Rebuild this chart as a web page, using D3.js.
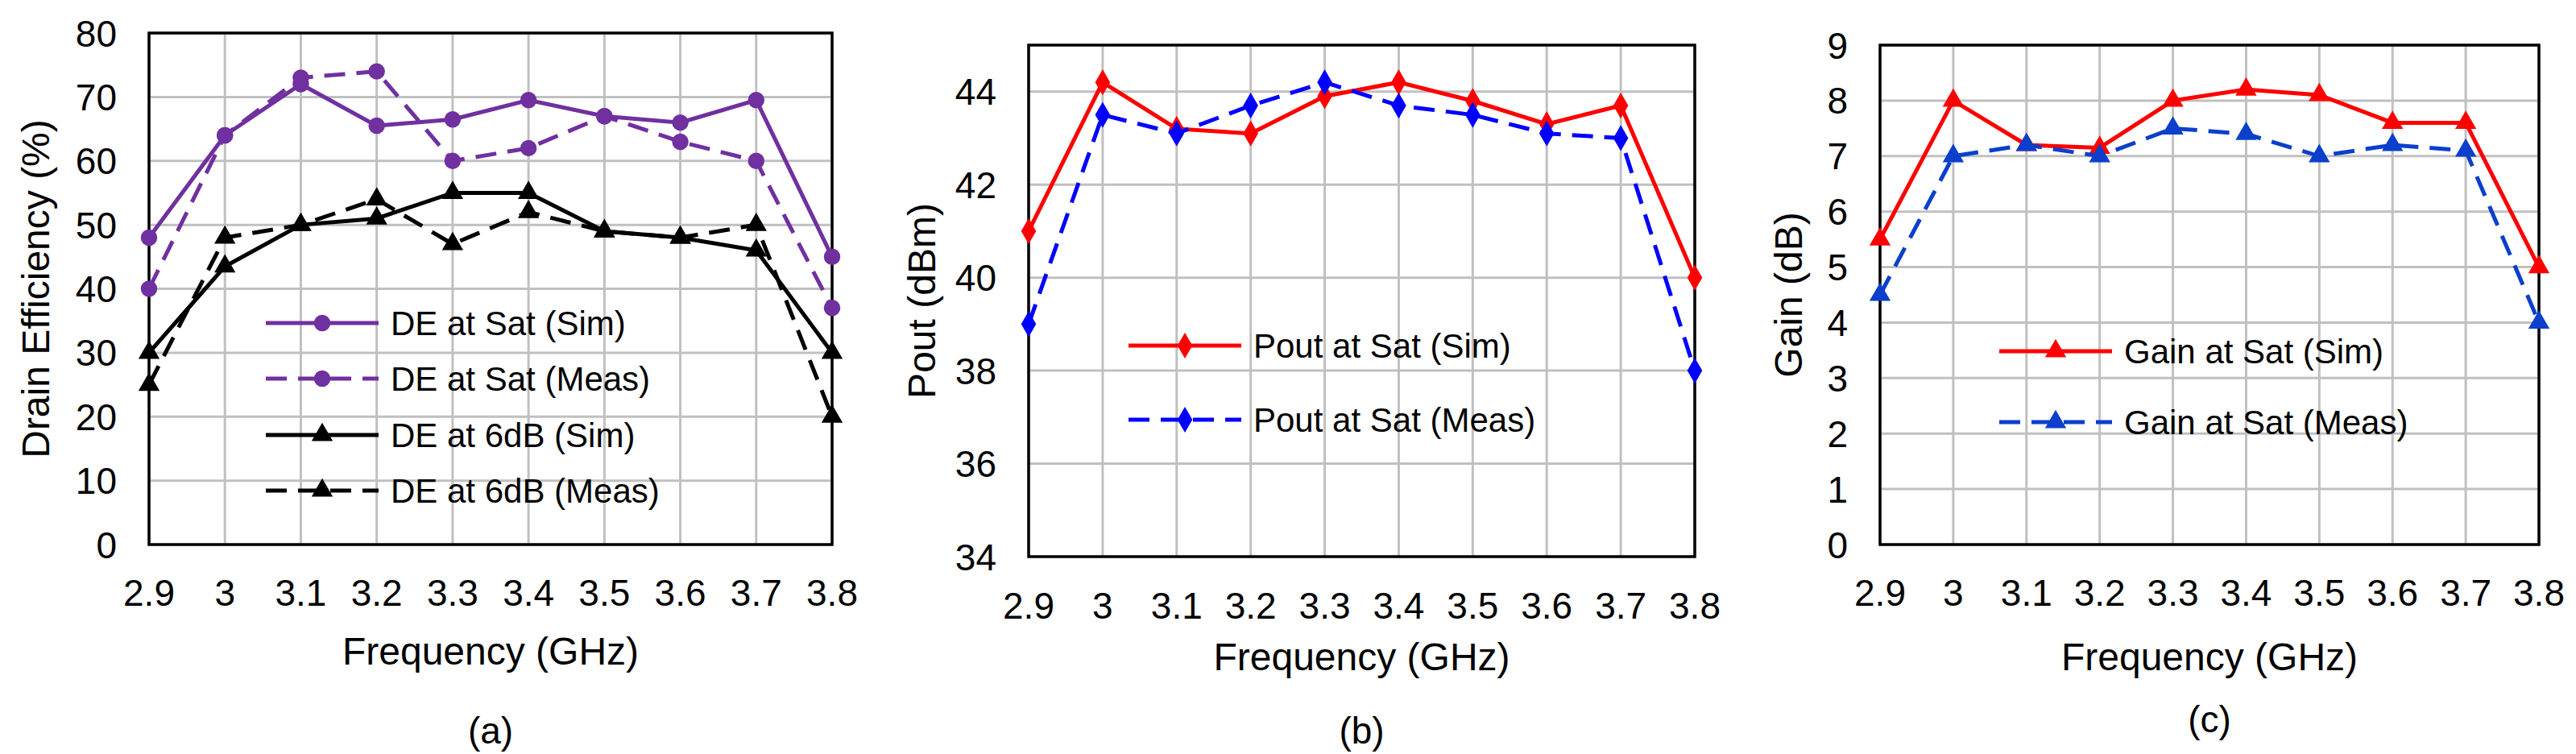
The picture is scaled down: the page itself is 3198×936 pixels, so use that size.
<!DOCTYPE html>
<html>
<head>
<meta charset="utf-8">
<script src="https://cdn.jsdelivr.net/npm/d3@7"></script>
<style>
  body { margin: 0; background: #fff; }
  svg { display: block; font-family: Arial, "Liberation Sans", sans-serif; }
</style>
</head>
<body>
<svg id="chart" width="3198" height="936"></svg>
<script>
// x categories shared by all three panels
const freqs = ["2.9", "3", "3.1", "3.2", "3.3", "3.4", "3.5", "3.6", "3.7", "3.8"];

// (a) drain efficiency (%)
const deSatSim = [48, 64, 72, 65.5, 66.5, 69.5, 67, 66, 69.5, 45];
const deSatMeas = [40, 64, 73, 74, 60, 62, 67, 63, 60, 37];
const de6Sim = [30, 43.5, 50, 51, 55, 55, 49, 48, 46, 30];
const de6Meas = [25, 48, 50, 54, 47, 52, 49, 48, 50, 20];
const deTicks = [0, 10, 20, 30, 40, 50, 60, 70, 80];

// (b) output power (dBm)
const poutSim = [41, 44.2, 43.2, 43.1, 43.9, 44.2, 43.8, 43.3, 43.7, 40];
const poutMeas = [39, 43.5, 43.1, 43.7, 44.2, 43.7, 43.5, 43.1, 43, 38];
const poutTicks = [34, 36, 38, 40, 42, 44];

// (c) gain (dB)
const gainSim = [5.5, 8, 7.2, 7.15, 8, 8.2, 8.1, 7.6, 7.6, 5];
const gainMeas = [4.5, 7, 7.2, 7, 7.5, 7.4, 7, 7.2, 7.1, 4];
const gainTicks = [0, 1, 2, 3, 4, 5, 6, 7, 8, 9];

const svg = d3.select("#chart");

const panels = [
  {
    left: 185, right: 1033, top: 41, bottom: 676, domain: [0, 80], ticks: deTicks,
    yTitle: "Drain Efficiency (%)", yTitleX: 44, caption: "(a)", capY: 906,
    xTickY: 735, xTitleY: 808, legX: 330, legRows: [401, 470, 540, 609],
    series: [
      { name: "DE at Sat (Sim)", values: deSatSim, color: "#7030A0", dash: null, marker: "circle" },
      { name: "DE at Sat (Meas)", values: deSatMeas, color: "#7030A0", dash: "26,14", marker: "circle" },
      { name: "DE at 6dB (Sim)", values: de6Sim, color: "#000000", dash: null, marker: "triangle" },
      { name: "DE at 6dB (Meas)", values: de6Meas, color: "#000000", dash: "26,14", marker: "triangle" }
    ]
  },
  {
    left: 1277, right: 2104, top: 56, bottom: 691, domain: [34, 45], ticks: poutTicks,
    yTitle: "Pout (dBm)", yTitleX: 1144, caption: "(b)", capY: 906,
    xTickY: 751, xTitleY: 815, legX: 1401, legRows: [429, 521],
    series: [
      { name: "Pout at Sat (Sim)", values: poutSim, color: "#FF0000", dash: null, marker: "diamond" },
      { name: "Pout at Sat (Meas)", values: poutMeas, color: "#0000FF", dash: "26,14", marker: "diamond" }
    ]
  },
  {
    left: 2334, right: 3152, top: 56, bottom: 676, domain: [0, 9], ticks: gainTicks,
    yTitle: "Gain (dB)", yTitleX: 2220, caption: "(c)", capY: 892,
    xTickY: 735, xTitleY: 815, legX: 2482, legRows: [436, 524],
    series: [
      { name: "Gain at Sat (Sim)", values: gainSim, color: "#FF0000", dash: null, marker: "triangle" },
      { name: "Gain at Sat (Meas)", values: gainMeas, color: "#0B3FCC", dash: "26,14", marker: "triangle" }
    ]
  }
];

const symbols = {
  circle: d3.symbol().type(d3.symbolCircle).size(330),
  triangle: d3.symbol().type(d3.symbolTriangle).size(300),
  diamond: d3.symbol().type(d3.symbolDiamond).size(300)
};

panels.forEach(p => {
  const x = d3.scalePoint().domain(freqs).range([p.left, p.right]);
  const y = d3.scaleLinear().domain(p.domain).range([p.bottom, p.top]);
  const g = svg.append("g");

  // grid
  g.append("g").selectAll("line.h").data(p.ticks).join("line")
    .attr("x1", p.left).attr("x2", p.right)
    .attr("y1", d => y(d)).attr("y2", d => y(d))
    .attr("stroke", "#c0c0c0").attr("stroke-width", 3);
  g.append("g").selectAll("line.v").data(freqs).join("line")
    .attr("x1", d => x(d)).attr("x2", d => x(d))
    .attr("y1", p.top).attr("y2", p.bottom)
    .attr("stroke", "#c0c0c0").attr("stroke-width", 3);

  // frame
  g.append("rect")
    .attr("x", p.left).attr("y", p.top)
    .attr("width", p.right - p.left).attr("height", p.bottom - p.top)
    .attr("fill", "none").attr("stroke", "#000").attr("stroke-width", 3.5);

  // tick labels
  g.append("g").selectAll("text").data(p.ticks).join("text")
    .attr("x", p.left - 40).attr("y", d => y(d)).attr("dy", "0.36em")
    .attr("text-anchor", "end").attr("font-size", 46).text(d => d);
  g.append("g").selectAll("text").data(freqs).join("text")
    .attr("x", d => x(d)).attr("y", p.xTickY).attr("dy", "0.36em")
    .attr("text-anchor", "middle").attr("font-size", 46).text(d => d);

  // titles
  g.append("text")
    .attr("x", (p.left + p.right) / 2).attr("y", p.xTitleY).attr("dy", "0.36em")
    .attr("text-anchor", "middle").attr("font-size", 48).text("Frequency (GHz)");
  g.append("text")
    .attr("transform", `translate(${p.yTitleX},${(p.top + p.bottom) / 2}) rotate(-90)`)
    .attr("dy", "0.36em").attr("text-anchor", "middle").attr("font-size", 48).text(p.yTitle);
  g.append("text")
    .attr("x", (p.left + p.right) / 2).attr("y", p.capY).attr("dy", "0.36em")
    .attr("text-anchor", "middle").attr("font-size", 46).text(p.caption);

  const line = d3.line().x((d, i) => x(freqs[i])).y(d => y(d));

  p.series.forEach((s, k) => {
    g.append("path").datum(s.values)
      .attr("d", line).attr("fill", "none")
      .attr("stroke", s.color).attr("stroke-width", 5)
      .attr("stroke-dasharray", s.dash);
    g.append("g").selectAll("path").data(s.values).join("path")
      .attr("transform", (d, i) => `translate(${x(freqs[i])},${y(d)})`)
      .attr("d", symbols[s.marker]()).attr("fill", s.color);

    // legend entry
    const ly = p.legRows[k];
    g.append("line")
      .attr("x1", p.legX).attr("x2", p.legX + 140).attr("y1", ly).attr("y2", ly)
      .attr("stroke", s.color).attr("stroke-width", 5).attr("stroke-dasharray", s.dash);
    g.append("path")
      .attr("transform", `translate(${p.legX + 70},${ly})`)
      .attr("d", symbols[s.marker]()).attr("fill", s.color);
    g.append("text")
      .attr("x", p.legX + 155).attr("y", ly).attr("dy", "0.36em")
      .attr("font-size", 42).text(s.name);
  });
});
</script>
</body>
</html>
